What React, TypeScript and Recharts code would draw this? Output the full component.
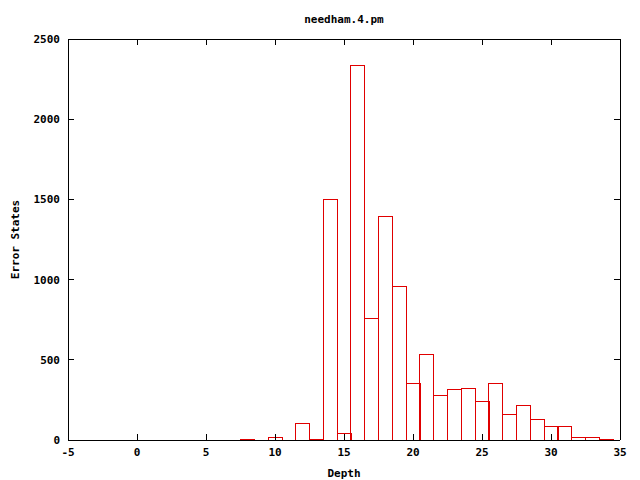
import { BarChart, Bar, XAxis, YAxis, ReferenceLine } from "recharts";

const depths = [8, 9, 10, 11, 12, 13, 14, 15, 16, 17, 18, 19, 20, 21, 22, 23, 24, 25, 26, 27, 28, 29, 30, 31, 32, 33, 34];
const errorStates = [6, 0, 17, 0, 104, 6, 1498, 42, 2335, 759, 1395, 958, 353, 530, 280, 316, 322, 243, 353, 162, 218, 129, 83, 83, 17, 17, 6];
const xTicks = [-5, 0, 5, 10, 15, 20, 25, 30, 35];
const yTicks = [0, 500, 1000, 1500, 2000, 2500];

const data = depths.map((d, i) => ({ depth: d, errors: errorStates[i] }));

const FONT = "'DejaVu Sans Mono', 'Liberation Mono', monospace";
const labelStyle = { fill: "#000", fontSize: 11, fontFamily: FONT, fontWeight: "bold" as const };
const TICK = 6;

// plot frame (pixels) used for the mirrored gnuplot ticks
const M_TOP = 39;
const M_RIGHT = 20;
const CHART_W = 640;
const PLOT_RIGHT = CHART_W - M_RIGHT;

// ticks point into the plot and are mirrored on the opposite border
function BottomTick(props: any) {
  const { x, y, payload } = props;
  return (
    <g>
      <line x1={x} y1={y} x2={x} y2={y - TICK} stroke="#000" />
      <line x1={x} y1={M_TOP} x2={x} y2={M_TOP + TICK} stroke="#000" />
      <text x={x} y={y + 16} textAnchor="middle" style={labelStyle}>{payload.value}</text>
    </g>
  );
}

function LeftTick(props: any) {
  const { x, y, payload } = props;
  return (
    <g>
      <line x1={x} y1={y} x2={x + TICK} y2={y} stroke="#000" />
      <line x1={PLOT_RIGHT} y1={y} x2={PLOT_RIGHT - TICK} y2={y} stroke="#000" />
      <text x={x - 8} y={y + 4} textAnchor="end" style={labelStyle}>{payload.value}</text>
    </g>
  );
}

export default function App() {
  return (
    <div style={{ position: "absolute", left: 0, top: 0, background: "#fff", shapeRendering: "crispEdges" }}>
      <BarChart
        width={CHART_W}
        height={480}
        data={data}
        margin={{ top: M_TOP, right: M_RIGHT, left: 0, bottom: 0 }}
        barCategoryGap={0}
        barGap={0}
      >
        <XAxis
          dataKey="depth"
          type="number"
          domain={[-5, 35]}
          ticks={xTicks}
          height={40}
          stroke="#000"
          tickSize={0}
          tickMargin={0}
          tickLine={false}
          tick={<BottomTick />}
          label={{ value: "Depth", position: "insideBottom", offset: 3, style: labelStyle }}
        />
        <YAxis
          type="number"
          domain={[0, 2500]}
          ticks={yTicks}
          width={68}
          stroke="#000"
          tickSize={0}
          tickMargin={0}
          tickLine={false}
          tick={<LeftTick />}
          label={{ value: "Error States", angle: -90, position: "insideLeft", offset: 15, style: { ...labelStyle, textAnchor: "middle" } }}
        />
        <ReferenceLine x={35} stroke="#000" />
        <ReferenceLine
          y={2500}
          stroke="#000"
          label={{ value: "needham.4.pm", position: "top", offset: 16, style: labelStyle }}
        />
        <Bar
          dataKey="errors"
          fill="none"
          stroke="#e00000"
          strokeWidth={1}
          isAnimationActive={false}
        />
      </BarChart>
    </div>
  );
}
